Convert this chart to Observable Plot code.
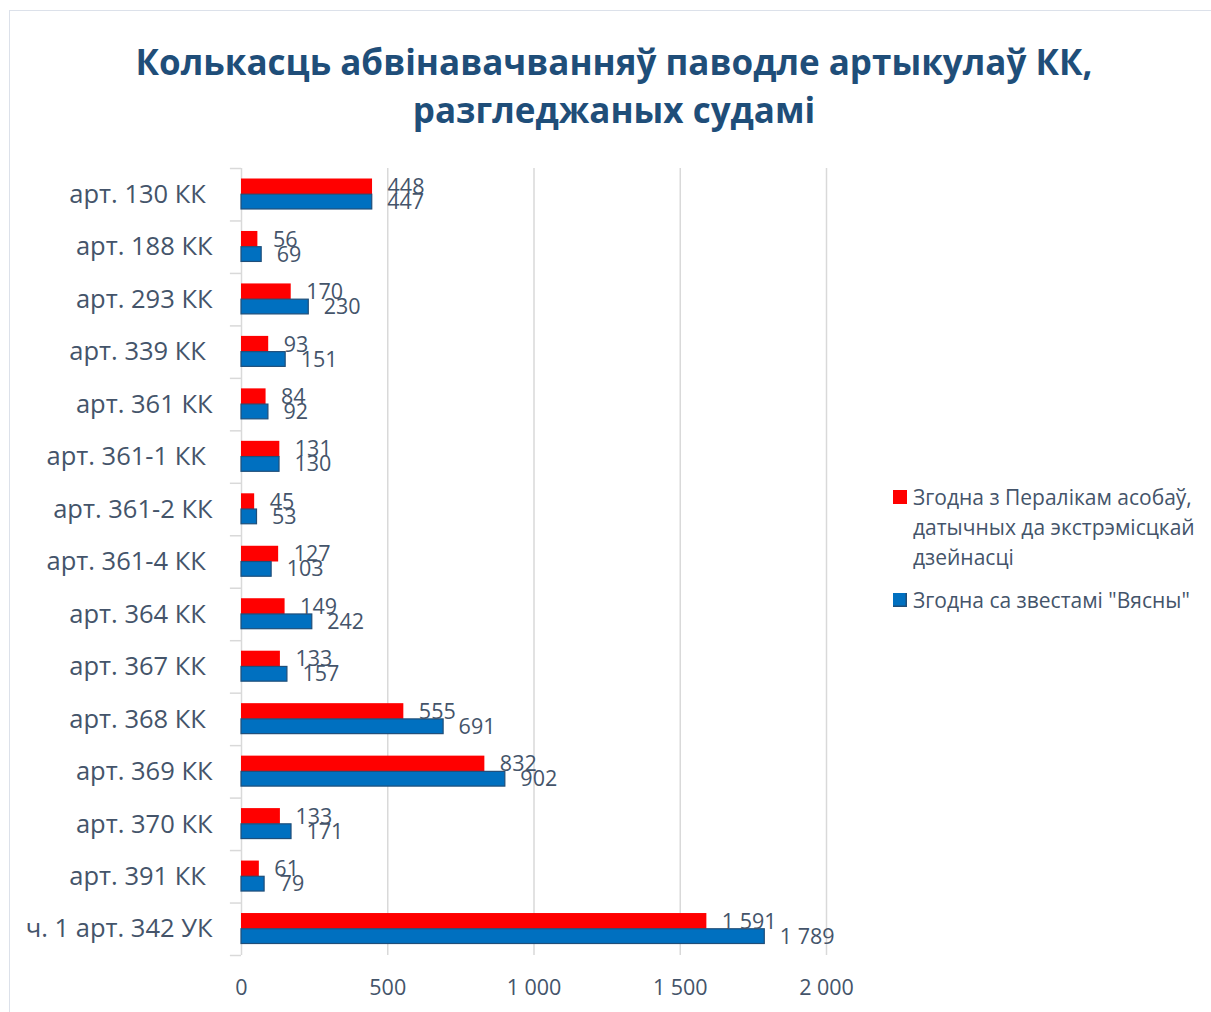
<!DOCTYPE html>
<html>
<head>
<meta charset="utf-8">
<script src="https://cdn.jsdelivr.net/npm/d3@7"></script>
<script src="https://cdn.jsdelivr.net/npm/@observablehq/plot@0.6"></script>
<style>
  html, body { margin: 0; padding: 0; background: #fff; }
  body { width: 1211px; height: 1012px; position: relative; overflow: hidden; font-family: "Open Sans", "Noto Sans", sans-serif; }
  #frame { position: absolute; left: 9px; top: 10px; width: 1230px; height: 1030px; border: 1.5px solid #DCE1EA; box-sizing: border-box; }
  #title { position: absolute; left: 9px; width: 1210px; top: 38px; text-align: center; color: #1F4E79; font-weight: 700; font-size: 35px; line-height: 48px; }
  #chart { position: absolute; left: 0; top: 150px; }
  #legend { position: absolute; left: 893px; top: 482px; color: #44546A; font-size: 21px; line-height: 30px; }
  .item { position: relative; padding-left: 20px; }
  .sw { position: absolute; left: 0; width: 14px; height: 14px; }
</style>
</head>
<body>
<div id="frame"></div>
<div id="title"></div>
<div id="chart"></div>
<div id="legend"></div>
<script>
const titleLines = ["Колькасць абвінавачванняў паводле артыкулаў КК,", "разгледжаных судамі"];
const categories = ["арт. 130 КК ", "арт. 188 КК", "арт. 293 КК", "арт. 339 КК ", "арт. 361 КК", "арт. 361-1 КК ", "арт. 361-2 КК", "арт. 361-4 КК ", "арт. 364 КК ", "арт. 367 КК ", "арт. 368 КК ", "арт. 369 КК", "арт. 370 КК", "арт. 391 КК ", "ч. 1 арт. 342 УК"];
const seriesNames = ["Згодна з Пералікам асобаў, датычных да экстрэмісцкай дзейнасці", "Згодна са звестамі \"Вясны\""];
const seriesLegendLines = [["Згодна з Пералікам асобаў,", "датычных да экстрэмісцкай", "дзейнасці"], ["Згодна са звестамі \"Вясны\""]];
const perelik = [448, 56, 170, 93, 84, 131, 45, 127, 149, 133, 555, 832, 133, 61, 1591];
const viasna = [447, 69, 230, 151, 92, 130, 53, 103, 242, 157, 691, 902, 171, 79, 1789];
const xTicks = [0, 500, 1000, 1500, 2000];
const colors = ["#FF0000", "#0070C0"];

document.getElementById("title").innerHTML = titleLines.join("<br>");

const rows = categories.map((c, i) => ({cat: c, red: perelik[i], blue: viasna[i]}));
const fmt = d3.formatLocale({thousands: "\u00a0", grouping: [3], decimal: ","}).format(",d");

const W = 880, H = 870, mT = 18, mB = 65;
const band = (H - mT - mB) / categories.length;
const half = band / 2;

const chart = Plot.plot({
  width: W, height: H,
  marginLeft: 241, marginRight: 54, marginTop: mT, marginBottom: mB,
  style: {fontFamily: "'Open Sans', 'Noto Sans', sans-serif", color: "#44546A", background: "transparent", overflow: "visible"},
  x: {domain: [0, 2000]},
  y: {domain: categories, padding: 0, round: false},
  marks: [
    Plot.gridX(xTicks, {stroke: "#D9D9D9", strokeOpacity: 1, strokeWidth: 1.5}),
    Plot.ruleY(categories, {y: d => d, dy: -half, x1: -38, x2: 0, stroke: "#D9D9D9", strokeWidth: 1.5, clip: false}),
    Plot.ruleY(categories.slice(-1), {y: d => d, dy: half, x1: -38, x2: 0, stroke: "#D9D9D9", strokeWidth: 1.5, clip: false}),
    Plot.axisX(xTicks, {tickSize: 0, tickPadding: 24, tickFormat: fmt, fontSize: 21.5, label: null}),
    Plot.axisY({tickSize: 0, tickPadding: 29, fontSize: 25.5, label: null, tickFormat: d => d.replace(/ $/, "\u00a0")}),
    Plot.barX(rows, {y: "cat", x: "red", fill: colors[0], insetTop: 10.5, insetBottom: half}),
    Plot.barX(rows, {y: "cat", x: "blue", fill: colors[1], stroke: "#1F4E79", strokeWidth: 1.2, insetTop: half, insetBottom: 11.5}),
    Plot.text(rows, {y: "cat", x: "red", text: d => fmt(d.red), dx: 15, dy: -7.5, textAnchor: "start", fontSize: 21.5, fill: "#44546A"}),
    Plot.text(rows, {y: "cat", x: "blue", text: d => fmt(d.blue), dx: 15, dy: 7.5, textAnchor: "start", fontSize: 21.5, fill: "#44546A"})
  ]
});
document.getElementById("chart").appendChild(chart);

const legend = document.getElementById("legend");
seriesLegendLines.forEach((lines, i) => {
  const it = document.createElement("div");
  it.className = "item";
  it.style.marginBottom = i === 0 ? "13px" : "0";
  it.innerHTML = `<span class="sw" style="background:${colors[i]};top:8px;${i === 1 ? 'box-shadow: inset -1.5px -1.5px 0 #1F4E79;' : ''}"></span>` + lines.join("<br>");
  it.title = seriesNames[i];
  legend.appendChild(it);
});
</script>
</body>
</html>
